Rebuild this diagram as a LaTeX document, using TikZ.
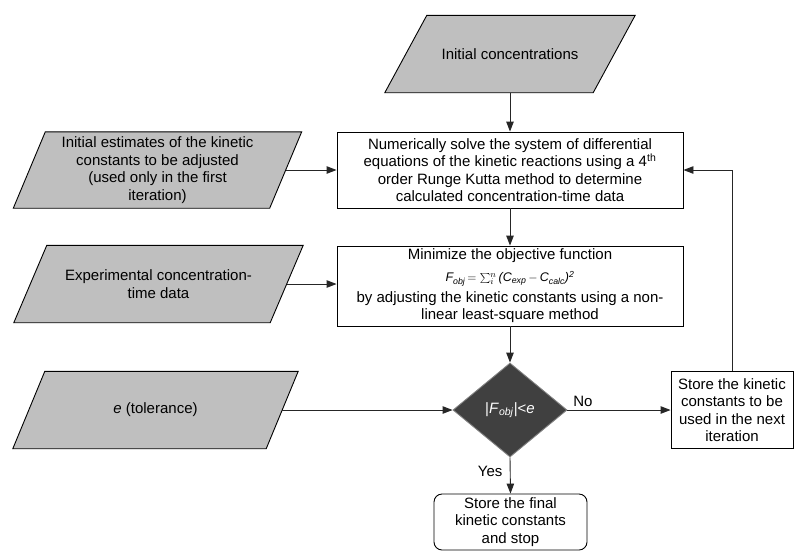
\documentclass[tikz,border=0pt]{standalone}
\usepackage{fontspec}
\setmainfont{Liberation Sans}
\usetikzlibrary{shapes.geometric,arrows.meta,positioning,backgrounds}

\tikzset{
  inbox/.style={rectangle, inner sep=2pt, align=center, minimum height=77pt},
  inshape/.style={draw=black, fill=gray!50, line width=0.9pt},
  procbox/.style={rectangle, draw=black, fill=white, line width=0.9pt, inner sep=2pt, align=center},
  flow/.style={draw=black!85, line width=0.9pt, -{Triangle[length=10pt,width=7.5pt]}},
}

\begin{document}
\begin{tikzpicture}[x=1pt, y=-1pt, font=\fontsize{15}{17.5}\selectfont]
    \useasboundingbox (0,0) rectangle (795,550);

    % Draw the input data
    \node[inbox, minimum width=208pt] (initc) at (510,54) {Initial concentrations};
    \node[inbox, minimum width=256pt, minimum height=76pt] (estim) at (157.5,170)
        {Initial estimates of the kinetic\\constants to be adjusted\\(used only in the first\\iteration)};
    \node[inbox, minimum width=256pt] (expdata) at (158.5,284)
        {Experimental concentration-\\time data};
    \node[inbox, minimum width=253pt] (toler) at (155.5,410)
        {\textit{e} (tolerance)};

    % Draw the parallelograms behind the input texts
    \begin{scope}[on background layer]
        \foreach \n/\s in {initc/21, estim/16, expdata/16.5, toler/16} {
            \draw[inshape] ([xshift=\s pt]\n.north west) -- ([xshift=\s pt]\n.north east)
                -- ([xshift=-\s pt]\n.south east) -- ([xshift=-\s pt]\n.south west) -- cycle;
        }
    \end{scope}

    % Draw the process boxes
    \node[procbox, minimum width=346pt, minimum height=76pt] (solve) at (510,170)
        {Numerically solve the system of differential\\equations of the kinetic reactions using a 4\textsuperscript{th}\\order Runge Kutta method to determine\\calculated concentration-time data};
    \node[procbox, minimum width=346pt, minimum height=80pt] (minim) at (510,286)
        {Minimize the objective function\\[4.5pt]
         {\fontsize{12.5}{14}\selectfont\itshape F\textsubscript{obj}\,$=\sum_{i}^{n}$\,(C\textsubscript{exp}\,$-$\,C\textsubscript{calc})\textsuperscript{2}}\\[3pt]
         by adjusting the kinetic constants using a non-\\linear least-square method};

    % Draw the test and the two outcomes
    \node[diamond, draw=gray, line width=0.9pt, fill=black!75, text=white, inner sep=0pt, shape aspect=1.2,
        minimum width=114pt, minimum height=94pt] (test) at (510,410)
        {|\textit{F}\textsubscript{\textit{obj}}|<\textit{e}};
    \node[procbox, minimum width=122pt, minimum height=77pt] (keep) at (732,410)
        {Store the kinetic\\constants to be\\used in the next\\iteration};
    \node[procbox, rounded corners=8pt, minimum width=153pt, minimum height=56pt] (final) at (510.5,522)
        {Store the final\\kinetic constants\\and stop};

    % Draw the connectors
    \draw[flow] (initc) -- (solve);
    \draw[flow] (estim.east) -- (estim.east -| solve.west);
    \draw[flow] (solve) -- (minim);
    \draw[flow] (expdata.east) -- (expdata.east -| minim.west);
    \draw[flow] (minim) -- (test);
    \draw[flow] (toler.east) -- (test.west);
    \draw[flow] (test.east) -- node[pos=0.15, above] {No} (keep.west);
    \draw[flow] (keep.north) |- (solve.east);
    \draw[flow] (test.south) -- node[left=4pt, pos=0.4] {Yes} (final.north);
\end{tikzpicture}
\end{document}
